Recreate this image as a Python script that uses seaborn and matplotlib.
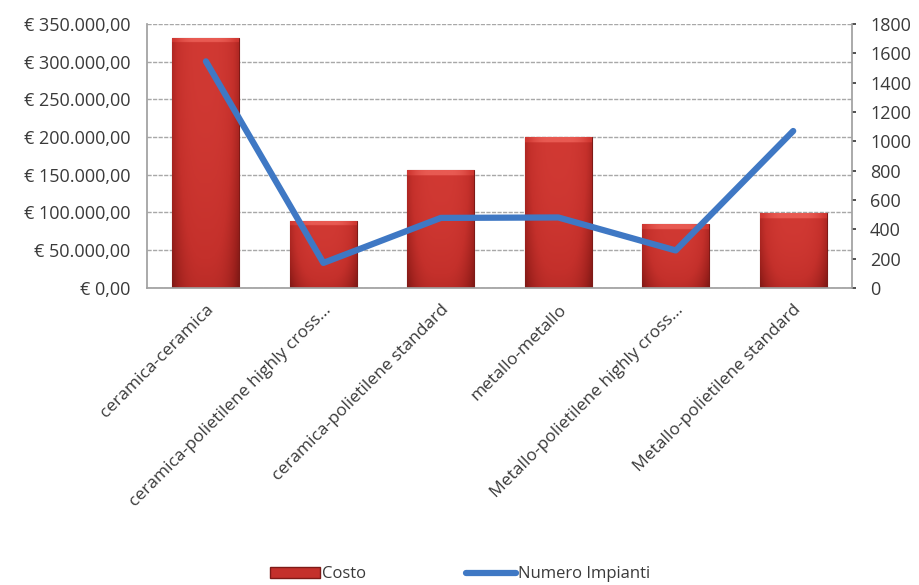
import matplotlib
matplotlib.use("Agg")
import matplotlib.pyplot as plt
import seaborn as sns
import pandas as pd
import numpy as np
from matplotlib.lines import Line2D
from matplotlib.patches import Patch
from matplotlib.colors import LinearSegmentedColormap

categorie = [
    "ceramica-ceramica",
    "ceramica-polietilene highly cross...",
    "ceramica-polietilene standard",
    "metallo-metallo",
    "Metallo-polietilene highly cross...",
    "Metallo-polietilene standard",
]
costo = [332000, 89000, 156000, 200000, 84000, 99000]
numero_impianti = [1545, 170, 477, 480, 255, 1070]

costo_ticks = [0, 50000, 100000, 150000, 200000, 250000, 300000, 350000]
impianti_ticks = [0, 200, 400, 600, 800, 1000, 1200, 1400, 1600, 1800]

sns.set_theme(style="white")
plt.rcParams["font.family"] = ["Open Sans", "DejaVu Sans"]

TEXT = "#3A3A3A"
RED = "#C4302B"
BLUE = "#3F78C4"
FS = 12.5

df = pd.DataFrame({"categoria": categorie, "costo": costo,
                   "impianti": numero_impianti, "pos": range(len(categorie))})

fig = plt.figure(figsize=(9.2, 5.85), dpi=100)
ax = fig.add_axes([0.16, 0.508, 0.766, 0.451])

sns.barplot(data=df, x="categoria", y="costo", ax=ax, color=RED,
            saturation=1, width=0.57, edgecolor="#7E1A17", linewidth=0.8)

# shaded fill for each bar: darker toward the sides and bottom, bright top cap
shade = LinearSegmentedColormap.from_list(
    "shade", ["#6E1512", "#9E211D", "#C4302B", "#D23A34", "#E85A52"])
xs = np.linspace(-1, 1, 60)
ys = np.linspace(0, 1, 200)
X, Y = np.meshgrid(xs, ys)
val = 0.72 - 0.35 * np.abs(X) ** 3 - 0.28 * (1 - Y) ** 2
for bar in ax.patches:
    x0, w, h = bar.get_x(), bar.get_width(), bar.get_height()
    if h <= 0:
        continue
    cap = 6500  # height of the bright top band, in data units
    v = val.copy()
    top = Y > 1 - cap / h
    v[top] = np.clip(v[top] + 0.3, 0, 1)
    im = ax.imshow(v, extent=[x0, x0 + w, 0, h], origin="lower", aspect="auto",
                   cmap=shade, vmin=0, vmax=1, zorder=bar.get_zorder(),
                   interpolation="bilinear")
    im.set_clip_path(bar)

ax.set_ylim(0, 350000)
ax.set_xlim(-0.5, len(categorie) - 0.5)
ax.set_yticks(costo_ticks)
ax.set_yticklabels(["€ " + f"{v:,.2f}".replace(",", "X").replace(".", ",").replace("X", ".")
                    for v in costo_ticks])
ax.yaxis.grid(True, color="#A8A8A8", linestyle=(0, (3, 1)), linewidth=1.0)
ax.set_axisbelow(True)
ax.set_xlabel("")
ax.set_ylabel("")
for s in ["top", "right"]:
    ax.spines[s].set_visible(False)
for s in ["left", "bottom"]:
    ax.spines[s].set_color("#A0A0A0")
ax.tick_params(axis="y", labelsize=13, colors=TEXT, length=0, pad=12)
ax.set_xticks(range(len(categorie)))
ax.set_xticklabels(categorie, rotation=45, ha="right", rotation_mode="anchor",
                   fontsize=FS, color=TEXT)
ax.tick_params(axis="x", length=0, pad=10)

ax2 = ax.twinx()
sns.lineplot(data=df, x="pos", y="impianti", ax=ax2, color=BLUE,
             linewidth=4.5, sort=False)
ax2.set_ylim(0, 1800)
ax2.set_xlim(-0.5, len(categorie) - 0.5)
ax2.set_yticks(impianti_ticks)
ax2.set_ylabel("")
ax2.set_xlabel("")
ax2.tick_params(axis="y", labelsize=13, colors=TEXT, length=3, pad=10)
for s in ["top", "left", "bottom"]:
    ax2.spines[s].set_visible(False)
ax2.spines["right"].set_color("#A0A0A0")

handles = [Patch(facecolor=RED, edgecolor="#7E1A17", label="Costo"),
           Line2D([0], [0], color=BLUE, linewidth=4.5, label="Numero Impianti")]
fig.legend(handles=handles, loc="center", bbox_to_anchor=(0.5, 0.018), ncol=2,
           frameon=False, fontsize=12, handlelength=3.0, handleheight=0.6,
           handletextpad=0.1, columnspacing=6, labelcolor=TEXT)

fig.savefig("out.png", dpi=100)
